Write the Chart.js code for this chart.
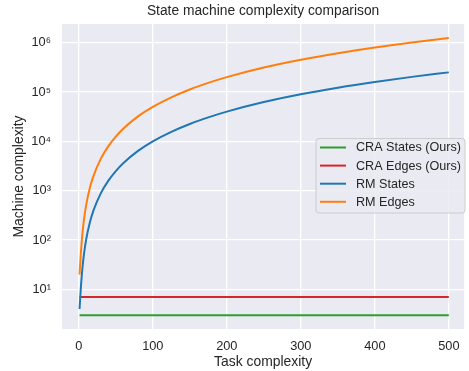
<!DOCTYPE html>
<html>
<head>
<meta charset="utf-8">
<script src="https://cdn.jsdelivr.net/npm/chart.js@4/dist/chart.umd.min.js"></script>
<style>
  html, body { margin: 0; padding: 0; background: #ffffff; overflow: hidden; }
  canvas { display: block; }
</style>
</head>
<body>
<canvas id="c" width="469" height="371"></canvas>
<script>
// ---- data ----
const chartTitle = "State machine complexity comparison";
const xLabel = "Task complexity";
const yLabel = "Machine complexity";
const seriesNames = ["CRA States (Ours)", "CRA Edges (Ours)", "RM States", "RM Edges"];

const craX = [1, 500];
const craStates = [3, 3];
const craEdges = [7, 7];

const rmX = [1, 2, 3, 4, 5, 7, 10, 15, 20, 30, 40, 50, 60, 80, 100, 125, 150, 175, 200, 250, 300, 350, 400, 450, 500];
const rmStates = [4, 7, 12, 19, 28, 52, 103, 228, 403, 903, 1600, 2500, 3600, 6400, 10000, 15600, 22500, 30600, 40000, 62500, 90000, 122500, 160000, 202500, 250000];
const rmEdges = [20, 35, 60, 95, 140, 260, 515, 1140, 2015, 4515, 8000, 12500, 18000, 32000, 50000, 78000, 112500, 153000, 200000, 312500, 450000, 612500, 800000, 1010000, 1250000];

const xTicks = [0, 100, 200, 300, 400, 500];
const yTicks = [1e1, 1e2, 1e3, 1e4, 1e5, 1e6];

const colors = ["#2ca02c", "#d62728", "#1f77b4", "#ff7f0e"];

// ---- helpers ----
const pts = (xs, ys) => xs.map((x, i) => ({ x: x, y: ys[i] }));
const sup = { "0":"⁰","1":"¹","2":"²","3":"³","4":"⁴","5":"⁵","6":"⁶","7":"⁷","8":"⁸","9":"⁹" };
const FONT = "'Liberation Sans', Arial, 'DejaVu Sans', sans-serif";
const TXT = "#262626";

const titleAndLegend = {
  id: "titleAndLegend",
  afterDraw(chart) {
    const ctx = chart.ctx;
    const ca = chart.chartArea;
    ctx.save();
    // title
    ctx.fillStyle = TXT;
    ctx.font = "13.8px " + FONT;
    ctx.textAlign = "center";
    ctx.textBaseline = "middle";
    ctx.fillText(chartTitle, (ca.left + ca.right) / 2, 11.5);
    // legend
    const bx = 316, by = 138.5, bw = 149, bh = 74.5, r = 3;
    ctx.beginPath();
    ctx.moveTo(bx + r, by);
    ctx.lineTo(bx + bw - r, by); ctx.quadraticCurveTo(bx + bw, by, bx + bw, by + r);
    ctx.lineTo(bx + bw, by + bh - r); ctx.quadraticCurveTo(bx + bw, by + bh, bx + bw - r, by + bh);
    ctx.lineTo(bx + r, by + bh); ctx.quadraticCurveTo(bx, by + bh, bx, by + bh - r);
    ctx.lineTo(bx, by + r); ctx.quadraticCurveTo(bx, by, bx + r, by);
    ctx.closePath();
    ctx.fillStyle = "rgba(234,234,242,0.85)";
    ctx.fill();
    ctx.strokeStyle = "#cccccc";
    ctx.lineWidth = 1;
    ctx.stroke();
    ctx.font = "12.6px " + FONT;
    ctx.textAlign = "left";
    chart.data.datasets.forEach((ds, i) => {
      const y = 147.5 + i * 18.1;
      ctx.strokeStyle = ds.borderColor;
      ctx.lineWidth = 2;
      ctx.beginPath();
      ctx.moveTo(320, y); ctx.lineTo(346, y);
      ctx.stroke();
      ctx.fillStyle = TXT;
      ctx.fillText(ds.label, 356, y + 0.5);
    });
    ctx.restore();
  }
};

const bgPlugin = {
  id: "bg",
  beforeDraw(chart) {
    const ctx = chart.ctx, ca = chart.chartArea;
    ctx.save();
    ctx.fillStyle = "#ffffff";
    ctx.fillRect(0, 0, chart.width, chart.height);
    ctx.fillStyle = "#eaeaf2";
    ctx.fillRect(ca.left, ca.top, ca.right - ca.left, ca.bottom - ca.top);
    ctx.restore();
  }
};

const mk = (label, data, color, order) => ({
  label: label, data: data, borderColor: color, backgroundColor: color,
  borderWidth: 2, pointRadius: 0, fill: false, order: order,
  cubicInterpolationMode: "monotone"
});

new Chart(document.getElementById("c"), {
  type: "line",
  data: {
    datasets: [
      mk(seriesNames[0], pts(craX, craStates), colors[0], 4),
      mk(seriesNames[1], pts(craX, craEdges), colors[1], 3),
      mk(seriesNames[2], pts(rmX, rmStates), colors[2], 2),
      mk(seriesNames[3], pts(rmX, rmEdges), colors[3], 1)
    ]
  },
  options: {
    responsive: false,
    animation: false,
    layout: { padding: { top: 24, left: 0, right: 0, bottom: 0 } },
    plugins: { legend: { display: false }, title: { display: false }, tooltip: { enabled: false } },
    scales: {
      x: {
        type: "linear",
        min: -22.7, max: 520.7,
        afterFit(s) { s.height = 42; },
        afterBuildTicks(s) { s.ticks = xTicks.map(v => ({ value: v })); },
        grid: { color: "#ffffff", lineWidth: 1.3, drawTicks: false },
        border: { display: false },
        ticks: { color: TXT, font: { family: FONT, size: 12.8 }, padding: 9.5, maxRotation: 0, includeBounds: false },
        title: { display: true, text: xLabel, color: TXT, font: { family: FONT, size: 13.9 }, padding: { top: 0, bottom: 0.5 } }
      },
      y: {
        type: "logarithmic",
        min: 1.57, max: 2.39e6,
        afterFit(s) { s.width = 62; },
        afterBuildTicks(s) { s.ticks = yTicks.map(v => ({ value: v })); },
        grid: { color: "#ffffff", lineWidth: 1.3, drawTicks: false },
        border: { display: false },
        ticks: {
          color: TXT, font: { family: FONT, size: 12.8 }, padding: 11,
          callback: (v) => "10" + String(Math.round(Math.log10(v))).split("").map(c => sup[c]).join("")
        },
        title: { display: true, text: yLabel, color: TXT, font: { family: FONT, size: 13.9 }, padding: { top: 10.5, bottom: 0 } }
      }
    }
  },
  plugins: [bgPlugin, titleAndLegend]
});
</script>
</body>
</html>
